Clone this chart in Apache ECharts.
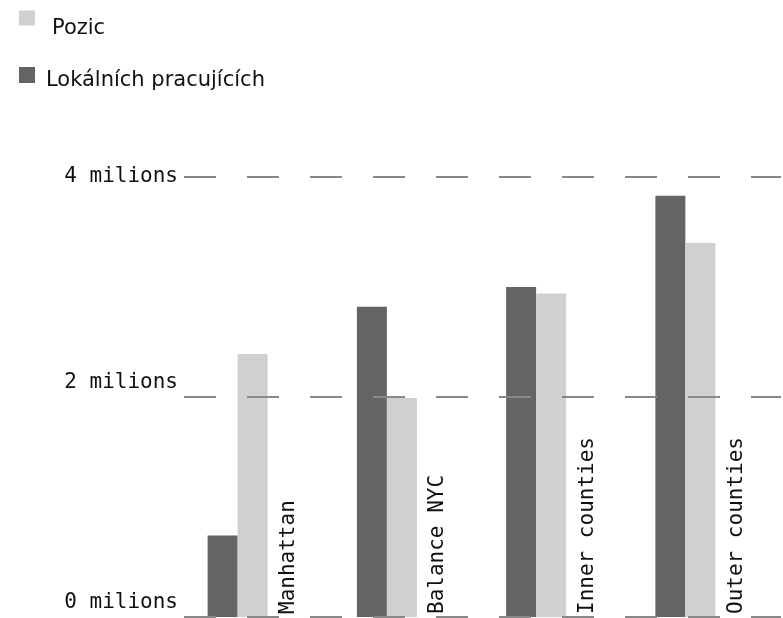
<!DOCTYPE html>
<html>
<head>
<meta charset="utf-8">
<style>
  html, body { margin: 0; padding: 0; background: #fff; }
  #chart { width: 783px; height: 618px; }
</style>
<script src="https://cdn.jsdelivr.net/npm/echarts@6/dist/echarts.min.js"></script>
</head>
<body>
<div id="chart"></div>
<script>
// Jobs vs. local workers by area (values in people)
const categories = ['Manhattan', 'Balance NYC', 'Inner counties', 'Outer counties'];
const localWorkers = [740000, 2820000, 3000000, 3830000];
const positions = [2390000, 1990000, 2940000, 3400000];
const yTicks = [0, 2000000, 4000000];
const seriesNames = ['Pozic', 'Lokálních pracujících'];

const DARK = '#646464';
const LIGHT = '#d0d0d0';
const MONO = '"DejaVu Sans Mono", monospace';
const SANS = '"DejaVu Sans", sans-serif';

const chart = echarts.init(document.getElementById('chart'), null, { renderer: 'canvas' });

const yMax = yTicks[yTicks.length - 1];

// legend entry: a spacer line above the name pushes the name below the swatch centre
function legendEntry(drop, indent) {
  return {
    formatter: function (name) { return '{s| }\n{t|' + name + '}'; },
    textStyle: {
      rich: {
        s: { fontSize: 1, lineHeight: drop * 2 },
        t: { fontFamily: SANS, fontSize: 21, color: '#111', lineHeight: 25, padding: [0, 0, 0, indent] }
      }
    }
  };
}

const l1 = legendEntry(11, 12);
const l2 = legendEntry(6, 6);

chart.setOption({
  animation: false,
  backgroundColor: '#fff',
  grid: { left: 184, right: 2, top: 177, bottom: 1, containLabel: false },
  legend: [
    {
      data: [seriesNames[0]],
      left: 19, top: 5, padding: 0,
      icon: 'rect', itemWidth: 16, itemHeight: 15,
      selectedMode: false,
      formatter: l1.formatter,
      textStyle: l1.textStyle
    },
    {
      data: [seriesNames[1]],
      left: 19, top: 62, padding: 0,
      icon: 'rect', itemWidth: 16, itemHeight: 16,
      selectedMode: false,
      formatter: l2.formatter,
      textStyle: l2.textStyle
    }
  ],
  xAxis: {
    type: 'category',
    data: categories,
    axisLine: { show: false },
    axisTick: { show: false },
    axisLabel: { show: false },
    splitLine: { show: false }
  },
  yAxis: {
    type: 'value',
    min: 0,
    max: yMax,
    interval: yTicks[1] - yTicks[0],
    z: 5,
    axisLine: { show: false },
    axisTick: { show: false },
    axisLabel: {
      margin: 6,
      fontFamily: MONO,
      fontSize: 21,
      color: '#111',
      formatter: function (v) {
        const txt = (v / 1000000) + ' milions';
        return v === yMax ? '{top|' + txt + '}' : '{low|' + txt + '}';
      },
      rich: {
        top: { fontFamily: MONO, fontSize: 21, color: '#111' },
        low: { fontFamily: MONO, fontSize: 21, color: '#111', padding: [0, 0, 28, 0] }
      }
    },
    splitLine: {
      show: true,
      lineStyle: { color: '#888', width: 2, type: [32, 31] }
    }
  },
  series: [
    {
      name: seriesNames[1],
      type: 'bar',
      data: localWorkers,
      barWidth: 30,
      barGap: '0%',
      itemStyle: { color: DARK },
      z: 2
    },
    {
      name: seriesNames[0],
      type: 'bar',
      data: positions,
      barWidth: 30,
      barGap: '0%',
      itemStyle: { color: LIGHT },
      z: 2
    },
    {
      // empty slot that carries the rotated category names
      name: 'labels',
      type: 'bar',
      data: categories.map(function () { return 0; }),
      barWidth: 42,
      barGap: '0%',
      itemStyle: { color: 'rgba(0,0,0,0)' },
      silent: true,
      z: 6,
      label: {
        show: true,
        position: 'insideBottom',
        distance: 4,
        rotate: 90,
        align: 'left',
        verticalAlign: 'middle',
        offset: [-1, 0],
        fontFamily: MONO,
        fontSize: 21,
        color: '#111',
        formatter: function (p) { return categories[p.dataIndex]; }
      }
    }
  ]
});
</script>
</body>
</html>
